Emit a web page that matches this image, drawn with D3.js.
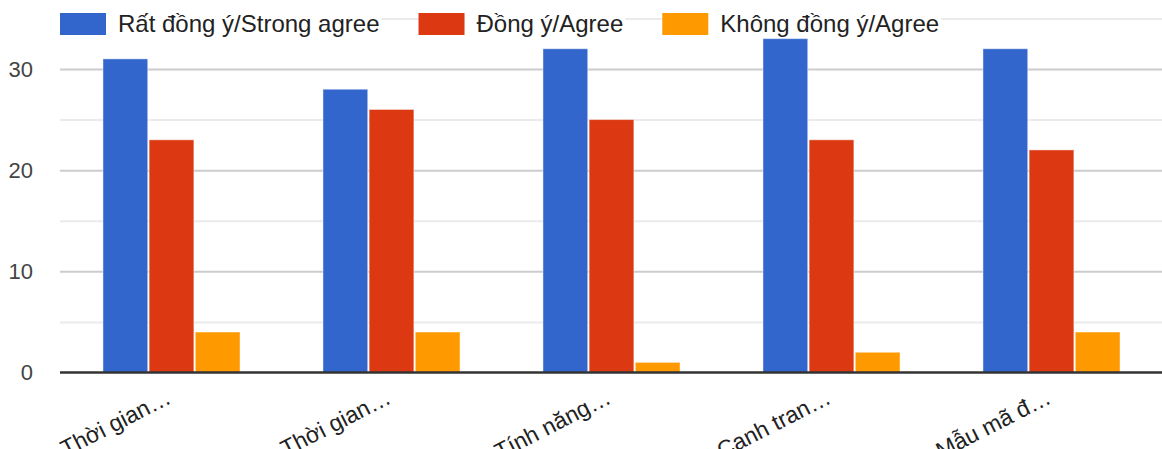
<!DOCTYPE html>
<html>
<head>
<meta charset="utf-8">
<script src="https://cdn.jsdelivr.net/npm/d3@7.9.0/dist/d3.min.js"></script>
<style>
  html, body { margin: 0; padding: 0; background: #fff; }
  svg { display: block; font-family: "Liberation Sans", Arial, sans-serif; }
</style>
</head>
<body>
<svg width="1162" height="449"></svg>
<script>
// chart data
const categories = ["Thời gian…", "Thời gian…", "Tính năng…", "Cạnh tran…", "Mẫu mã đ…"];
const seriesNames = ["Rất đồng ý/Strong agree", "Đồng ý/Agree", "Không đồng ý/Agree"];
const strongAgree = [31, 28, 32, 33, 32];
const agree = [23, 26, 25, 23, 22];
const disagree = [4, 4, 1, 2, 4];
const majorTicks = [0, 10, 20, 30];
const minorTicks = [5, 15, 25, 35];
const colors = ["#3366cc", "#dc3912", "#ff9900"];

const series = [strongAgree, agree, disagree];

let svg = d3.select("svg");
let plotLeft = 60, plotRight = 1162, plotBottom = 372.5, plotTop = 18.4;

let x0 = d3.scaleBand()
    .domain(d3.range(categories.length))
    .range([61.5, 1161.5])
    .paddingInner(0.377)
    .paddingOuter(0.1885);

let x1 = d3.scaleBand()
    .domain(d3.range(series.length))
    .range([0, x0.bandwidth()])
    .paddingInner(0.03);

let y = d3.scaleLinear().domain([0, 35]).range([plotBottom, plotTop]);

// gridlines
svg.append("g")
    .attr("transform", `translate(${plotLeft},0)`)
    .call(d3.axisLeft(y).tickValues(minorTicks).tickSize(-(plotRight - plotLeft)).tickFormat(""))
    .call(g => g.select(".domain").remove())
    .call(g => g.selectAll("line").attr("stroke", "#ebebeb").attr("stroke-width", 2));

svg.append("g")
    .attr("transform", `translate(${plotLeft},0)`)
    .call(d3.axisLeft(y).tickValues(majorTicks.slice(1)).tickSize(-(plotRight - plotLeft)).tickFormat(""))
    .call(g => g.select(".domain").remove())
    .call(g => g.selectAll("line").attr("stroke", "#cccccc").attr("stroke-width", 2));

// y labels
svg.append("g")
    .attr("transform", `translate(${plotLeft},0)`)
    .call(d3.axisLeft(y).tickValues(majorTicks).tickSize(0).tickPadding(27))
    .call(g => g.select(".domain").remove())
    .call(g => g.selectAll("text")
        .attr("font-size", 22)
        .attr("font-family", "Liberation Sans, Arial, sans-serif")
        .attr("fill", "#444"));

// bars
let groups = svg.append("g")
    .selectAll("g")
    .data(categories.map((c, i) => i))
    .join("g")
    .attr("transform", i => `translate(${x0(i)},0)`);

groups.selectAll("rect")
    .data(i => series.map((s, k) => ({ k: k, v: s[i] })))
    .join("rect")
    .attr("x", d => x1(d.k))
    .attr("y", d => y(d.v))
    .attr("width", x1.bandwidth())
    .attr("height", d => y(0) - y(d.v))
    .attr("fill", d => colors[d.k])
    .attr("stroke", "#ffffff")
    .attr("stroke-opacity", 0.45)
    .attr("stroke-width", 1);

// baseline
svg.append("line")
    .attr("x1", plotLeft).attr("x2", plotRight)
    .attr("y1", y(0)).attr("y2", y(0))
    .attr("stroke", "#333")
    .attr("stroke-width", 2.5);

// x labels (slanted, cut by the bottom edge like the original)
svg.append("g")
    .attr("transform", `translate(0,${y(0)})`)
    .call(d3.axisBottom(x0).tickSize(0).tickFormat(i => categories[i]))
    .call(g => g.select(".domain").remove())
    .call(g => g.selectAll(".tick").attr("transform", i => `translate(${x0(i) + x0.bandwidth() / 2 + 1},0)`))
    .call(g => g.selectAll("text")
        .attr("font-size", 23)
        .attr("font-family", "Liberation Sans, Arial, sans-serif")
        .attr("fill", "#222")
        .attr("text-anchor", "end")
        .attr("y", 0)
        .attr("dy", 0)
        .attr("transform", "translate(0,30) rotate(-27)"));

// legend
let legend = svg.append("g");
let lx = 60;
seriesNames.forEach((name, k) => {
    let item = legend.append("g").attr("transform", `translate(${lx},0)`);
    let bg = item.append("rect").attr("fill", "#fff");
    item.append("rect")
        .attr("x", 0).attr("y", 13)
        .attr("width", 46).attr("height", 22)
        .attr("fill", colors[k]);
    let t = item.append("text")
        .attr("x", 58).attr("y", 32)
        .attr("font-size", 24)
        .attr("fill", "#222")
        .text(name);
    let w = t.node().getComputedTextLength();
    bg.attr("x", 46).attr("y", 8).attr("width", w + 14).attr("height", 30);
    lx += 58 + w + 39;
});
</script>
</body>
</html>
